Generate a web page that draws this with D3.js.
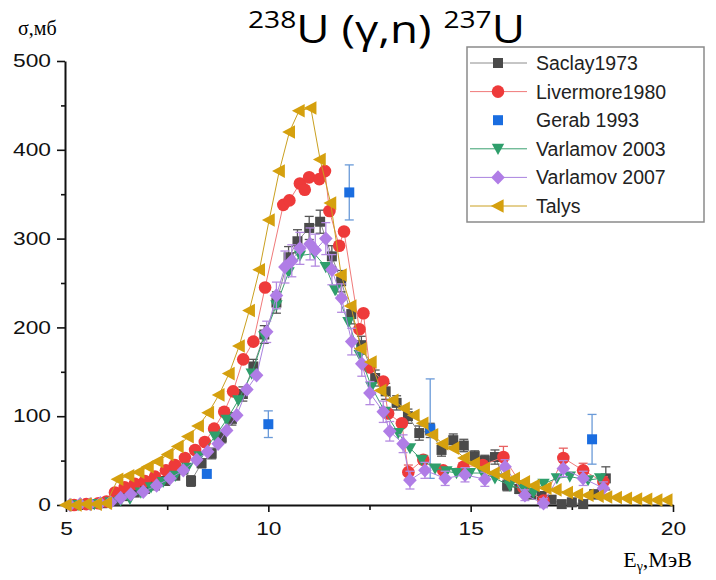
<!DOCTYPE html>
<html>
<head>
<meta charset="utf-8">
<script src="https://cdn.jsdelivr.net/npm/d3@7"></script>
<style>
  body { margin: 0; background: #fff; }
  svg { display: block; }
</style>
</head>
<body>
<script>
// series: [E (MeV), sigma (mb), error]
var saclay = [
  [5.3,0,0],[5.6,1,0],[5.9,2,0],[6.2,5,0],[6.45,10,0],[6.7,14,0],[6.95,18,0],[7.2,22,0],
  [7.45,27,0],[7.7,33,0],[7.9,40,0],[8.09,27,6],[8.35,47,5],[8.6,58,6],[8.85,76,6],[9.1,97,7],
  [9.37,125,8],[9.63,156,8],[9.9,192,10],[10.2,228,12],[10.5,279,12],[10.72,297,13],[11.01,312,13],
  [11.28,319,13],[11.57,280,12],[11.8,252,12],[12.05,215,11],[12.3,180,10],[12.64,143,9],[12.9,128,9],
  [13.17,115,8],[13.45,100,8],[13.73,81,8],[14.0,84,8],[14.28,62,7],[14.57,73,7],[14.83,67,7],
  [15.1,55,6],[15.35,50,6],[15.6,54,8],[15.9,22,6],[16.2,18,5],[16.5,12,5],[16.76,10,5],[17.0,6,4],
  [17.25,1,4],[17.5,3,4],[17.78,1,4],[18.05,12,5],[18.34,30,13]
];
var livermore = [
  [5.2,0,0],[5.5,1,0],[5.8,2,0],[6.0,4,0],[6.21,14,0],[6.45,20,0],[6.7,24,0],[6.95,27,0],
  [7.2,32,0],[7.47,39,0],[7.69,45,0],[7.94,53,0],[8.19,62,0],[8.43,71,0],[8.66,86,0],[8.91,105,0],
  [9.13,128,0],[9.38,164,0],[9.63,184,0],[9.92,245,0],[10.37,338,0],[10.52,343,0],[10.78,362,0],
  [10.9,355,0],[11.01,369,0],[11.26,367,0],[11.4,376,0],[11.51,331,0],[11.75,292,0],[11.87,308,0],
  [12.25,198,0],[12.35,216,0],[12.5,155,0],[12.84,139,0],[12.96,103,0],[13.3,92,0],[13.46,37,8],
  [13.83,51,0],[14.32,39,0],[14.82,43,0],[15.3,45,0],[15.81,54,12],[16.3,20,0],[16.8,5,0],
  [17.29,53,11],[17.78,39,8],[18.28,26,6]
];
var gerab = [
  [8.48,35,0],[10.0,91,15],[12.0,352,31],[14.0,86,56],[18.0,74,28]
];
var varlamov2003 = [
  [5.3,0,0],[5.7,1,0],[6.1,3,0],[6.35,5,0],[6.58,7,0],[6.85,14,0],[7.1,20,0],[7.4,26,0],
  [7.7,33,0],[8.0,42,0],[8.3,55,0],[8.68,77,0],[8.97,96,0],[9.26,118,0],[9.59,148,0],[9.9,190,0],
  [10.2,225,0],[10.5,262,0],[10.78,281,0],[11.14,283,0],[11.42,268,0],[11.65,242,0],[11.98,206,0],
  [12.26,169,0],[12.55,133,0],[12.88,105,0],[13.21,81,0],[13.5,64,0],[13.79,51,0],[14.12,41,0],
  [14.4,38,0],[14.65,36,0],[14.98,36,0],[15.3,36,0],[15.6,30,0],[15.97,22,0],[16.3,18,0],
  [16.55,14,0],[16.8,24,0],[17.13,30,0],[17.45,32,0],[17.9,28,0],[18.2,30,0]
];
var varlamov2007 = [
  [5.1,0,0],[5.35,1,0],[5.6,1,0],[5.85,2,0],[6.1,3,0],[6.35,8,0],[6.6,12,0],[6.91,15,0],
  [7.24,22,0],[7.57,30,0],[7.9,39,0],[8.23,51,0],[8.5,60,0],[8.76,69,0],[8.97,84,0],[9.22,101,0],
  [9.47,130,0],[9.71,146,0],[9.96,195,12],[10.2,236,15],[10.41,268,18],[10.58,275,18],[10.78,289,18],
  [11.03,294,18],[11.16,287,18],[11.42,300,18],[11.57,265,17],[11.81,233,16],[12.06,184,15],
  [12.31,159,14],[12.51,126,13],[12.84,105,12],[13.0,83,11],[13.33,69,10],[13.5,28,10],[13.87,39,9],
  [14.37,30,8],[14.86,34,8],[15.35,29,8],[15.85,43,8],[16.34,11,6],[16.8,2,5],[17.29,41,9],
  [17.78,30,8],[18.28,19,7]
];
var talys = [
  [5.0,0],[5.25,0],[5.5,1],[5.75,1],[6.0,2],[6.28,29],[6.55,33],[6.8,37],[7.03,43],[7.27,49],
  [7.52,57],[7.77,66],[8.02,77],[8.27,89],[8.52,104],[8.78,124],[9.03,148],[9.28,179],[9.53,219],
  [9.78,265],[10.02,321],[10.27,376],[10.52,420],[10.76,444],[11.05,447],[11.28,389],[11.54,340],
  [11.8,259],[12.04,224],[12.29,176],[12.54,161],[12.78,129],[13.08,118],[13.36,109],[13.6,101],
  [13.82,92],[14.06,79],[14.31,69],[14.58,64],[14.84,53],[15.09,47],[15.34,41],[15.58,36],[15.84,33],
  [16.08,30],[16.33,26],[16.57,22],[16.86,19],[17.11,17],[17.39,14],[17.64,12],[17.9,11],[18.15,10],
  [18.36,9],[18.6,8.5],[18.85,7.5],[19.1,6.8],[19.35,6.4],[19.6,5.6],[19.85,5.6]
];

var xTicks = [5, 10, 15, 20];
var xMinor = [7.5, 12.5, 17.5];
var yTicks = [0, 100, 200, 300, 400, 500];
var yMinor = [50, 150, 250, 350, 450];

var w = 716, h = 580;
var svg = d3.select("body").append("svg").attr("width", w).attr("height", h);

var x = d3.scaleLinear().domain([5, 20]).range([66, 673]);
var y = d3.scaleLinear().domain([0, 500]).range([505, 61]);

//stretch the wide axis digits a bit
function widen(sel, k) {
  sel.each(function () {
    var len = this.getComputedTextLength();
    d3.select(this).attr("textLength", len * k).attr("lengthAdjust", "spacingAndGlyphs");
  });
}

// axes
var gy = svg.append("g").attr("transform", "translate(65,0)");
gy.call(d3.axisLeft(y).tickValues(yTicks).tickSize(8).tickSizeOuter(0).tickPadding(6));
var gy2 = svg.append("g").attr("transform", "translate(65,0)");
gy2.call(d3.axisLeft(y).tickValues(yMinor).tickSize(4).tickFormat(""));
gy2.select(".domain").remove();

var gx = svg.append("g").attr("transform", "translate(0,505)");
gx.call(d3.axisBottom(x).tickValues(xTicks).tickSize(7).tickSizeOuter(0).tickPadding(11));
var gx2 = svg.append("g").attr("transform", "translate(0,505)");
gx2.call(d3.axisBottom(x).tickValues(xMinor).tickSize(5).tickFormat(""));
gx2.select(".domain").remove();

svg.selectAll(".domain").attr("stroke", "#111").attr("stroke-width", 2);
svg.selectAll(".tick line").attr("stroke", "#111").attr("stroke-width", 1.6);
svg.selectAll(".tick text")
  .attr("font-family", "Liberation Sans, Arial, sans-serif")
  .attr("font-size", 17.5)
  .attr("fill", "#111");
widen(gy.selectAll(".tick text"), 1.3);
widen(gx.selectAll(".tick text"), 1.3);

// marker shapes
var shapes = {
  square: "M-5,-5h10v10h-10z",
  circle: "M-6.3,0a6.3,6.3 0 1,0 12.6,0a6.3,6.3 0 1,0 -12.6,0",
  down: "M-6.2,-5L6.2,-5L0,6.2Z",
  diamond: "M0,-7.2L6.8,0L0,7.2L-6.8,0Z",
  left: "M-7.2,0L5.6,-6.8L5.6,6.8Z"
};

var series = [
  { name: "Saclay1973", data: saclay, color: "#4a4a4a", line: "#8c8c8c", err: "#555", shape: "square" },
  { name: "Livermore1980", data: livermore, color: "#ee3a3a", line: "#f07a7a", err: "#e86060", shape: "circle" },
  { name: "Gerab 1993", data: gerab, color: "#1a6de0", line: null, err: "#6a9ad8", shape: "square" },
  { name: "Varlamov 2003", data: varlamov2003, color: "#2e9e6b", line: "#3aa070", err: "#2e9e6b", shape: "down" },
  { name: "Varlamov 2007", data: varlamov2007, color: "#b07de6", line: "#a982df", err: "#b48ae0", shape: "diamond" },
  { name: "Talys", data: talys, color: "#d5a00e", line: "#caa020", err: null, shape: "left" }
];

var line = d3.line().x(d => x(d[0])).y(d => y(d[1]));
var plot = svg.append("g");

series.forEach(function (s) {
  var g = plot.append("g");
  if (s.line) {
    g.append("path").datum(s.data).attr("d", line)
      .attr("fill", "none").attr("stroke", s.line).attr("stroke-width", 1);
  }
  if (s.err) {
    var eb = g.selectAll(".eb").data(s.data.filter(d => d[2] > 0)).enter().append("g")
      .attr("stroke", s.err).attr("stroke-width", 1.3);
    eb.append("line").attr("x1", d => x(d[0])).attr("x2", d => x(d[0]))
      .attr("y1", d => y(d[1] - d[2])).attr("y2", d => y(d[1] + d[2]));
    eb.append("line").attr("x1", d => x(d[0]) - 4.5).attr("x2", d => x(d[0]) + 4.5)
      .attr("y1", d => y(d[1] + d[2])).attr("y2", d => y(d[1] + d[2]));
    eb.append("line").attr("x1", d => x(d[0]) - 4.5).attr("x2", d => x(d[0]) + 4.5)
      .attr("y1", d => y(d[1] - d[2])).attr("y2", d => y(d[1] - d[2]));
  }
  g.selectAll(".mk").data(s.data).enter().append("path")
    .attr("d", shapes[s.shape])
    .attr("transform", d => "translate(" + x(d[0]) + "," + y(d[1]) + ")")
    .attr("fill", s.color);
});

// title
var title = svg.append("text").attr("x", 248).attr("y", 43)
  .attr("font-family", "Open Sans, Noto Sans, sans-serif").attr("font-size", 39).attr("fill", "#000")
  .attr("textLength", 277).attr("lengthAdjust", "spacingAndGlyphs");
title.append("tspan").attr("font-size", 24).attr("dy", -15).text("238");
title.append("tspan").attr("dy", 15).text("U (γ,n) ");
title.append("tspan").attr("font-size", 24).attr("dy", -15).text("237");
title.append("tspan").attr("dy", 15).text("U");

// axis titles
svg.append("text").attr("x", 18).attr("y", 35)
  .attr("font-family", "Liberation Serif, Times New Roman, serif").attr("font-size", 20)
  .text("σ,мб");
var xl = svg.append("text").attr("x", 692).attr("y", 567).attr("text-anchor", "end")
  .attr("font-family", "Liberation Serif, Times New Roman, serif").attr("font-size", 22);
xl.append("tspan").text("E");
xl.append("tspan").attr("font-size", 14).attr("dy", 4).text("γ");
xl.append("tspan").attr("dy", -4).text(",МэВ");

// legend
var lg = svg.append("g").attr("transform", "translate(467,47)");
lg.append("rect").attr("width", 237).attr("height", 175)
  .attr("fill", "#fff").attr("stroke", "#8a8a8a").attr("stroke-width", 1.5);
series.forEach(function (s, i) {
  var ry = 16 + i * 28.6;
  if (s.line) {
    lg.append("line").attr("x1", 3).attr("x2", 60).attr("y1", ry).attr("y2", ry)
      .attr("stroke", s.line).attr("stroke-width", 1);
  }
  lg.append("path").attr("d", shapes[s.shape])
    .attr("transform", "translate(31," + ry + ")").attr("fill", s.color);
  lg.append("text").attr("x", 69).attr("y", ry + 7)
    .attr("font-family", "Liberation Sans, Arial, sans-serif").attr("font-size", 19.5)
    .attr("fill", "#222").text(s.name);
});
</script>
</body>
</html>
